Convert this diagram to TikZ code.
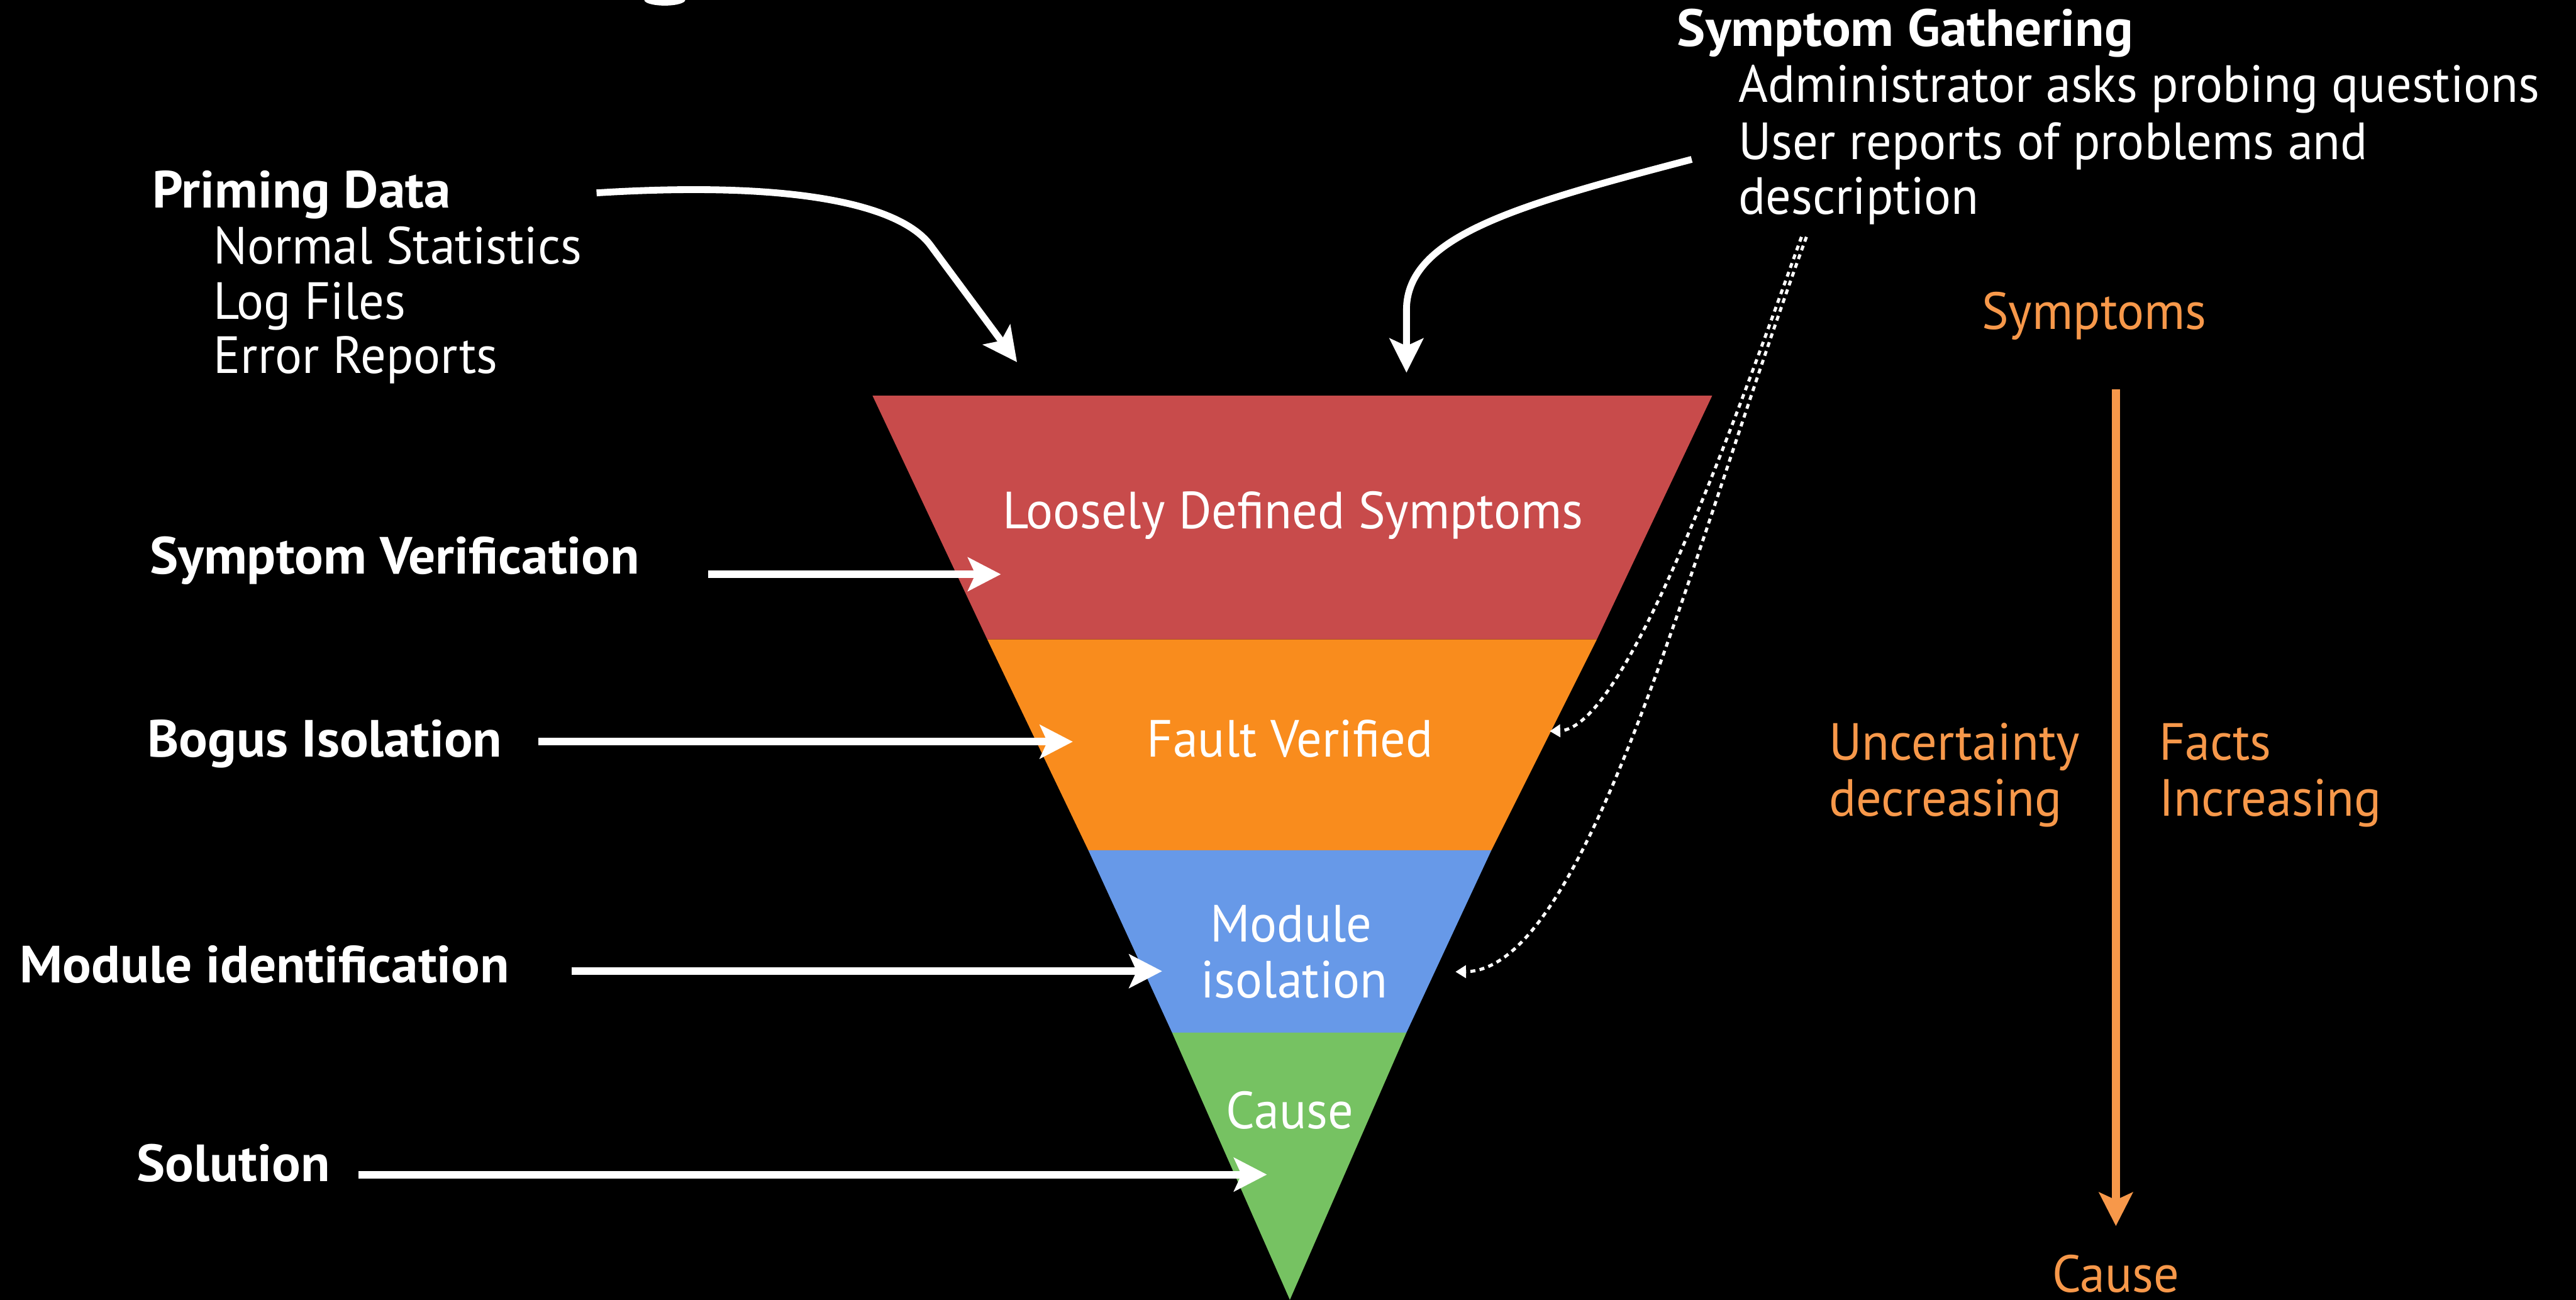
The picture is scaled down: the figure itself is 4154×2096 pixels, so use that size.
\documentclass[tikz,border=0pt]{standalone}
\usepackage{fontspec}
\setmainfont{PT Sans}
\newfontfamily\regfont{PT Sans}[FakeStretch=0.965]
\newfontfamily\boldfont{PT Sans Bold}[FakeStretch=1.025]
\usetikzlibrary{arrows.meta}
\definecolor{layerred}{HTML}{C84B4B}
\definecolor{layerorange}{HTML}{F98C1D}
\definecolor{layerblue}{HTML}{6799E8}
\definecolor{layergreen}{HTML}{76C262}
\definecolor{txtorange}{HTML}{F7984A}
\begin{document}
\begin{tikzpicture}[x=0.01cm,y=-0.01cm,
  lbl/.style={inner sep=0pt, text=white, font=\regfont\fontsize{24}{26}\selectfont},
  blbl/.style={lbl, font=\boldfont\fontsize{24}{26}\selectfont},
  olbl/.style={lbl, text=txtorange},
  bigarrow/.style={white, line width=0.12cm, -{Stealth[length=0.53cm,width=0.54cm,inset=0.12cm]}},
  curvarrow/.style={white, line width=0.11cm, -{Stealth[length=0.55cm,width=0.54cm,inset=0.12cm]}},
  dotarrow/.style={white, line width=0.05cm, dash pattern=on 0.08cm off 0.07cm, -{Triangle[length=0.17cm,width=0.2cm]}}
]
% background and page size
\fill[black] (0,0) rectangle (4154,2096);
\useasboundingbox (0,0) rectangle (4154,2096);

% descender of the cut-off heading
\fill[white] (1072,0) ellipse [x radius=33, y radius=9];

% funnel layers
\fill[layerred]    (1407,638) -- (2761,638) -- (2575,1031) -- (1592,1031) -- cycle;
\fill[layerorange] (1592,1031) -- (2575,1031) -- (2405,1371) -- (1755,1371) -- cycle;
\fill[layerblue]   (1755,1371) -- (2405,1371) -- (2268,1665) -- (1890,1665) -- cycle;
\fill[layergreen]  (1890,1665) -- (2268,1665) -- (2080,2096) -- cycle;

% layer captions
\node[lbl, anchor=base] (l1) at (2085,852) {Loosely Defined Symptoms};
\node[lbl, anchor=base] (l2) at (2080,1221) {Fault Verified};
\node[lbl, anchor=base] (l3a) at (2082,1519) {Module};
\node[lbl, anchor=base] (l3b) at (2087,1609) {isolation};
\node[lbl, anchor=base] (l4) at (2080,1820) {Cause};

% priming data
\node[blbl, anchor=base west] (pd) at (245,335) {Priming Data};
\node[lbl, anchor=base west] (pd1) at (344,425) {Normal Statistics};
\node[lbl, anchor=base west] (pd2) at (344,515) {Log Files};
\node[lbl, anchor=base west] (pd3) at (344,602) {Error Reports};

% symptom gathering
\node[blbl, anchor=base west] (sg) at (2704,75) {Symptom Gathering};
\node[lbl, anchor=base west] (sg1) at (2803,165) {Administrator asks probing questions};
\node[lbl, anchor=base west] (sg2) at (2803,257) {User reports of problems and};
\node[lbl, anchor=base west] (sg3) at (2803,345) {description};

% stage labels
\node[blbl, anchor=base west] (sv) at (241,925) {Symptom Verification};
\node[blbl, anchor=base west] (bi) at (237,1221) {Bogus Isolation};
\node[blbl, anchor=base west] (mi) at (31,1585) {Module identification};
\node[blbl, anchor=base west] (so) at (220,1905) {Solution};

% right-hand scale
\node[olbl, anchor=base] (sym) at (3377,531) {Symptoms};
\node[olbl, anchor=base] (cau) at (3412,2084) {Cause};
\node[olbl, anchor=base west] (unc1) at (2949,1226) {Uncertainty};
\node[olbl, anchor=base west] (unc2) at (2949,1316) {decreasing};
\node[olbl, anchor=base west] (fac1) at (3481,1226) {Facts};
\node[olbl, anchor=base west] (fac2) at (3481,1316) {Increasing};

% arrow end points
\coordinate (svs) at (1142,926);  \coordinate (svt) at (1614,926);
\coordinate (bis) at (868,1196);  \coordinate (bit) at (1730,1196);
\coordinate (mis) at (922,1566);  \coordinate (mit) at (1874,1566);
\coordinate (sos) at (578,1894);  \coordinate (sot) at (2043,1894);
\coordinate (pds) at (962,311);   \coordinate (pdk) at (1500,395);  \coordinate (pdt) at (1640,584);
\coordinate (sgs) at (2728,257);  \coordinate (sgk) at (2268,500);  \coordinate (sgt) at (2268,601);
\coordinate (ds1) at (2905,382);  \coordinate (dfv) at (2499,1179);
\coordinate (ds2) at (2913,382);  \coordinate (dmi) at (2347,1567);
\coordinate (oas) at (3412,628);  \coordinate (oat) at (3412,1977);

% stage arrows
\draw[bigarrow] (svs) -- (svt);
\draw[bigarrow] (bis) -- (bit);
\draw[bigarrow] (mis) -- (mit);
\draw[bigarrow] (sos) -- (sot);

% input arrows
\draw[curvarrow] (pds) .. controls (1300,290) and (1455,335) .. (pdk) -- (pdt);
\draw[curvarrow] (sgs) .. controls (2450,330) and (2268,380) .. (sgk) -- (sgt);

% dotted feedback arrows
\draw[dotarrow] (ds1) .. controls (2790,700) and (2620,1175) .. (dfv);
\draw[dotarrow] (ds2) .. controls (2730,880) and (2560,1565) .. (dmi);

% orange scale arrow
\draw[txtorange, line width=0.125cm, -{Stealth[length=0.54cm,width=0.54cm,inset=0.12cm]}] (oas) -- (oat);
\end{tikzpicture}
\end{document}
